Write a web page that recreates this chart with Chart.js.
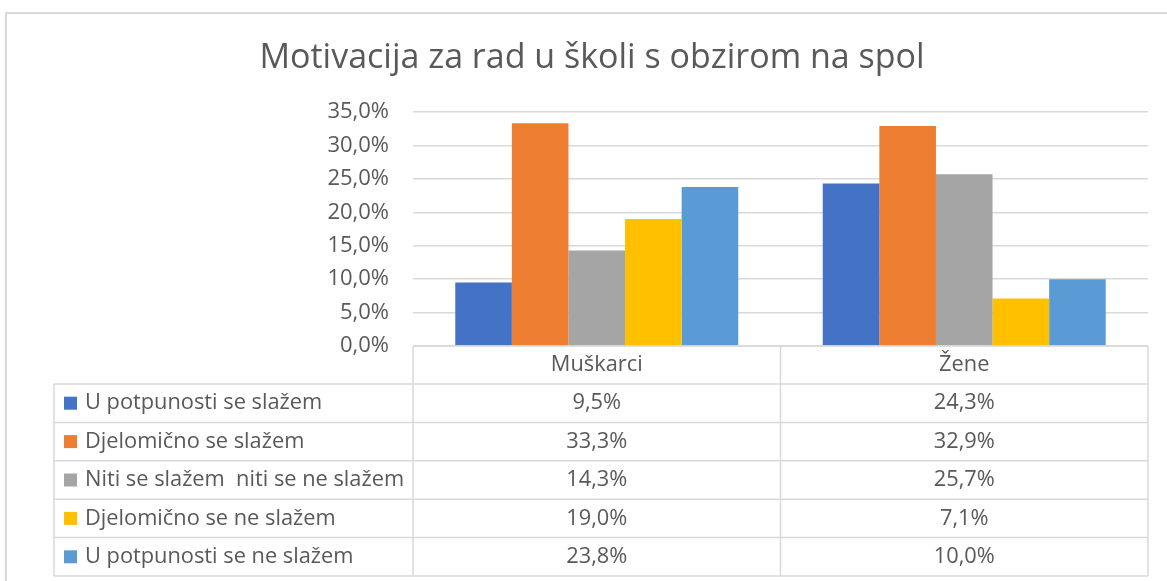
<!DOCTYPE html>
<html>
<head>
<meta charset="UTF-8">
<title>Motivacija za rad u školi s obzirom na spol</title>
<script src="https://cdn.jsdelivr.net/npm/chart.js"></script>
<style>
    html, body { margin: 0; padding: 0; background: #fff; }
    #wrap { position: relative; width: 1167px; height: 581px; }
</style>
</head>
<body>
<div id="wrap">
    <canvas id="chart" width="1167" height="581"></canvas>
</div>

<script>
    const chartTitle = "Motivacija za rad u školi s obzirom na spol";
    const categories = ["Muškarci", "Žene"];
    const seriesNames = [
        "U potpunosti se slažem",
        "Djelomično se slažem",
        "Niti se slažem  niti se ne slažem",
        "Djelomično se ne slažem",
        "U potpunosti se ne slažem"
    ];
    const potpunoSlazem = [9.5, 24.3];
    const djelomicnoSlazem = [33.3, 32.9];
    const nitiNiti = [14.3, 25.7];
    const djelomicnoNeSlazem = [19.0, 7.1];
    const potpunoNeSlazem = [23.8, 10.0];
    const seriesColors = ["#4472C4", "#ED7D31", "#A5A5A5", "#FFC000", "#5B9BD5"];
    const yTicks = [0, 5, 10, 15, 20, 25, 30, 35];

    const seriesValues = [potpunoSlazem, djelomicnoSlazem, nitiNiti, djelomicnoNeSlazem, potpunoNeSlazem];
    const FONT = "'Open Sans', 'Noto Sans', sans-serif";
    const TEXT = "#595959";
    const LINE = "#d9d9d9";

    function pct(v) {
        return v.toFixed(1).replace(".", ",") + "%";
    }

    // title, outer frame and the data table under the plot
    const tablePlugin = {
        id: "dataTable",
        afterDraw(chart) {
            const ctx = chart.ctx;
            const x = chart.scales.x;
            const area = chart.chartArea;
            const half = (x.getPixelForValue(1) - x.getPixelForValue(0)) / 2;
            const colEdges = [x.getPixelForValue(0) - half, x.getPixelForValue(0) + half, x.getPixelForValue(1) + half];
            const tableLeft = 54;
            const headTop = area.bottom;
            const headBottom = 384;
            const rowH = 38.4;

            ctx.save();
            // frame
            ctx.strokeStyle = LINE;
            ctx.lineWidth = 2;
            ctx.beginPath();
            ctx.moveTo(6, 581);
            ctx.lineTo(6, 13);
            ctx.lineTo(1167, 13);
            ctx.stroke();

            // title
            ctx.fillStyle = TEXT;
            ctx.font = "34px " + FONT;
            ctx.textAlign = "center";
            ctx.textBaseline = "middle";
            ctx.fillText(chartTitle, 592, 58);

            // table grid
            ctx.lineWidth = 1.5;
            ctx.strokeStyle = LINE;
            const bottom = headBottom + rowH * seriesNames.length;
            ctx.beginPath();
            ctx.moveTo(colEdges[0], headTop);
            ctx.lineTo(colEdges[2], headTop);
            for (let i = 0; i <= seriesNames.length; i++) {
                const y = headBottom + rowH * i;
                ctx.moveTo(tableLeft, y);
                ctx.lineTo(colEdges[2], y);
            }
            ctx.moveTo(tableLeft, headBottom);
            ctx.lineTo(tableLeft, bottom);
            colEdges.forEach(cx => {
                ctx.moveTo(cx, headTop);
                ctx.lineTo(cx, bottom);
            });
            ctx.stroke();

            // header
            ctx.font = "21.8px " + FONT;
            ctx.fillStyle = TEXT;
            ctx.textAlign = "center";
            categories.forEach((c, i) => {
                ctx.fillText(c, x.getPixelForValue(i), (headTop + headBottom) / 2);
            });

            // rows
            seriesNames.forEach((name, r) => {
                const cy = headBottom + rowH * r + rowH / 2;
                ctx.fillStyle = seriesColors[r];
                ctx.fillRect(64, cy - 6.5, 13, 13);
                ctx.fillStyle = TEXT;
                ctx.textAlign = "left";
                ctx.fillText(name, 85, cy);
                ctx.textAlign = "center";
                seriesValues[r].forEach((v, i) => {
                    ctx.fillText(pct(v), x.getPixelForValue(i), cy);
                });
            });
            ctx.restore();
        }
    };

    new Chart(document.getElementById("chart"), {
        type: "bar",
        data: {
            labels: categories,
            datasets: seriesNames.map((name, i) => ({
                label: name,
                data: seriesValues[i],
                backgroundColor: seriesColors[i],
                categoryPercentage: 0.77,
                barPercentage: 1
            }))
        },
        options: {
            responsive: false,
            animation: false,
            layout: { padding: { top: 112, right: 19, bottom: 235, left: 0 } },
            plugins: {
                legend: { display: false },
                title: { display: false },
                tooltip: { enabled: false }
            },
            scales: {
                x: {
                    display: false,
                    grid: { display: false }
                },
                y: {
                    min: 0,
                    max: 35,
                    afterFit(scale) { scale.width = 413; },
                    afterBuildTicks(scale) { scale.ticks = yTicks.map(v => ({ value: v })); },
                    border: { display: false },
                    grid: { color: LINE, lineWidth: 1.5, drawTicks: false },
                    ticks: {
                        padding: 24,
                        color: TEXT,
                        font: { family: FONT, size: 22 },
                        callback: v => pct(v)
                    }
                }
            }
        },
        plugins: [tablePlugin]
    });
</script>
</body>
</html>
